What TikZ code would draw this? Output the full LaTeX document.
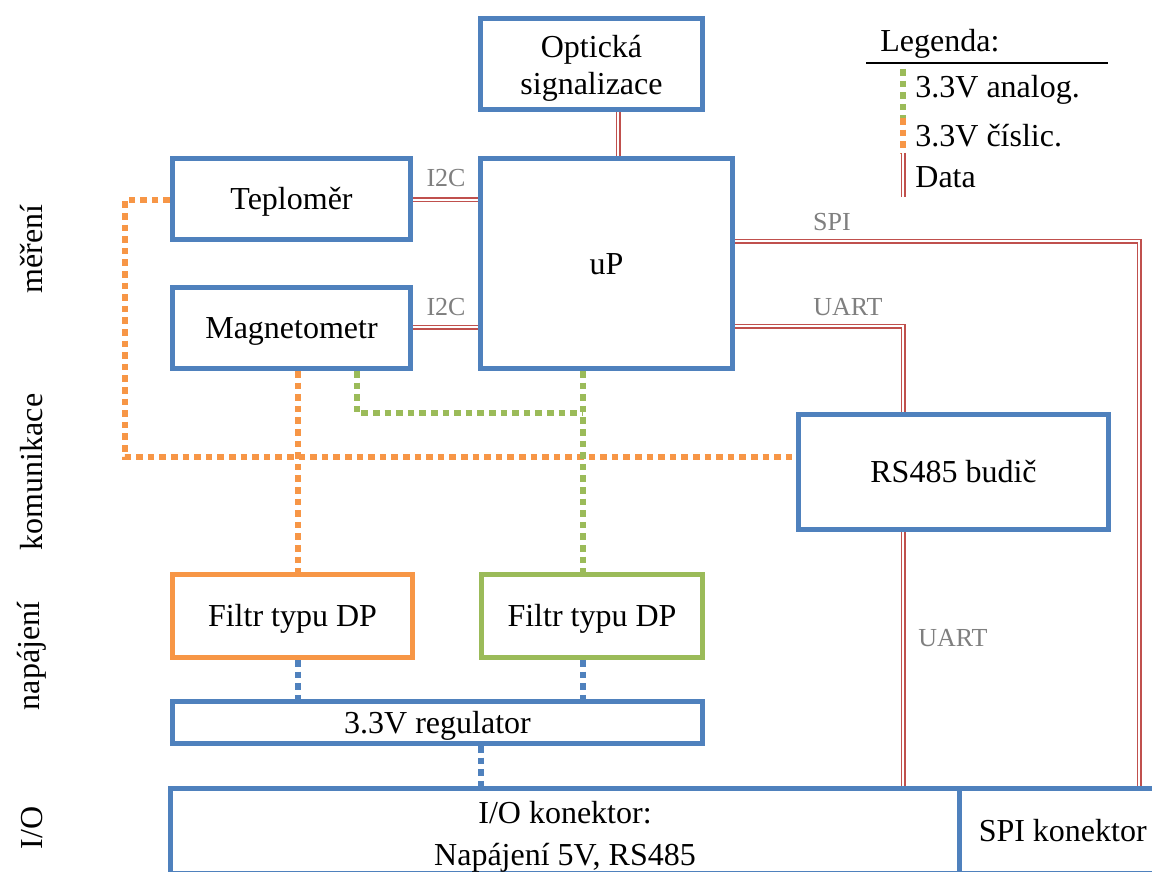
\documentclass[tikz,border=0pt]{standalone}
\usepackage{fontspec}
\setmainfont{Liberation Serif}
\definecolor{cblue}{HTML}{4F81BD}
\definecolor{corange}{HTML}{F79646}
\definecolor{cgreen}{HTML}{9BBB59}
\definecolor{cred}{HTML}{C0504D}
\definecolor{cgray}{HTML}{7F7F7F}
\begin{document}
\begin{tikzpicture}[x=0.5pt,y=-0.5pt,
  box/.style={draw=cblue, line width=2.5pt, inner sep=0pt, fill=white,
    text height=12pt, text depth=1.5pt, font=\fontsize{16}{18.5}\selectfont},
  txt/.style={inner sep=0pt, font=\fontsize{16}{18.5}\selectfont},
  lbl/.style={text=cgray, inner sep=0pt, font=\fontsize{13}{15}\selectfont},
  data/.style={draw=cred, double=white, double distance=0.9pt, line width=0.8pt},
  odot/.style={draw=corange, line width=3pt, dash pattern=on 3.3pt off 2.5pt},
  gdot/.style={draw=cgreen, line width=3pt, dash pattern=on 3.3pt off 2.5pt},
  bdot/.style={draw=cblue, line width=3pt, dash pattern=on 3.3pt off 2.5pt}]
\useasboundingbox (0,0) rectangle (1152,872);
% boxes
\node[box, minimum width=111pt, minimum height=45.5pt] (opt) at (591.5,64) {};
\node[txt, anchor=base] (opt1) at (591.5,58) {Optická};
\node[txt, anchor=base] (opt2) at (591.5,95) {signalizace};
\node[box, minimum width=119pt, minimum height=40.5pt] (teplo) at (291.5,199) {Teploměr};
\node[box, minimum width=126pt, minimum height=105pt] (uP) at (606.5,263.5) {uP};
\node[box, minimum width=119pt, minimum height=40.5pt] (mag) at (291.5,328) {Magnetometr};
\node[box, minimum width=155pt, minimum height=57.5pt] (rs) at (953.5,472) {RS485 budič};
\node[box, draw=corange, minimum width=120pt, minimum height=41.5pt] (fo) at (292.5,616) {Filtr typu DP};
\node[box, draw=cgreen, minimum width=110.5pt, minimum height=41.5pt] (fg) at (592,616) {Filtr typu DP};
\node[box, minimum width=265pt, minimum height=21pt] (reg) at (437.5,722.5) {3.3V regulator};
\node[box, minimum width=394.5pt, minimum height=42.5pt] (io) at (565,830.5) {};
\node[txt, anchor=base] (io1) at (565,823) {I/O konektor:};
\node[txt, anchor=base] (io2) at (565,865) {Napájení 5V, RS485};
\node[box, minimum width=97.25pt, minimum height=42.5pt] (spi) at (1056.75,830.5) {\hspace{6pt}SPI konektor};
% helper coordinates
\coordinate (xd) at (618,0);
\coordinate (yt) at (0,200);
\coordinate (ym) at (0,327);
\coordinate (ys) at (0,241);
\coordinate (yu) at (0,326);
\coordinate (xs) at (1139,0);
\coordinate (xu) at (903,0);
\coordinate (c1) at (125,457);
\coordinate (xo) at (298,0);
\coordinate (xg) at (583,0);
\coordinate (xm) at (357,413);
\coordinate (xg2) at (583,413);
\coordinate (xr) at (481,0);
% data lines
\draw[data] (opt.south -| xd) -- (uP.north -| xd);
\draw[data] (teplo.east |- yt) -- (uP.west |- yt);
\draw[data] (mag.east |- ym) -- (uP.west |- ym);
\draw[data] (uP.east |- ys) -| (spi.north -| xs);
\draw[data] (uP.east |- yu) -| (rs.north -| xu);
\draw[data] (rs.south -| xu) -- (io.north -| xu);
% power lines
\draw[odot] (teplo.west |- yt) -| (c1) -- (rs.west |- c1);
\draw[odot] (mag.south -| xo) -- (fo.north -| xo);
\draw[gdot] (uP.south -| xg) -- (fg.north -| xg);
\draw[gdot] (mag.south -| xm) -- (xm) -- (xg2);
\draw[bdot] (fo.south -| xo) -- (reg.north -| xo);
\draw[bdot] (fg.south -| xg) -- (reg.north -| xg);
\draw[bdot] (reg.south -| xr) -- (io.north -| xr);
% labels
\node[lbl] (i2c1) at (446,178) {I2C};
\node[lbl] (i2c2) at (446,307) {I2C};
\node[lbl] (lspi) at (832,222) {SPI};
\node[lbl] (luart1) at (848,307) {UART};
\node[lbl] (luart2) at (953,638) {UART};
% legend
\node[txt, anchor=base west] (legt) at (880,52) {Legenda:};
\coordinate (l1) at (866,63);
\coordinate (l2) at (1108,63);
\draw[line width=1pt] (l1) -- (l2);
\coordinate (la) at (903,69);
\coordinate (lb) at (903,118);
\coordinate (lc) at (903,153);
\coordinate (ld) at (903,197);
\draw[gdot] (la) -- (lb);
\draw[odot] (lb) -- (lc);
\draw[data] (lc) -- (ld);
\node[txt, anchor=base west] (lg1) at (915,98) {3.3V analog.};
\node[txt, anchor=base west] (lg2) at (915,147) {3.3V číslic.};
\node[txt, anchor=base west] (lg3) at (915,188) {Data};
% side labels
\node[txt, rotate=90] (s1) at (32,249) {měření};
\node[txt, rotate=90] (s2) at (32,472) {komunikace};
\node[txt, rotate=90] (s3) at (32,656) {napájení};
\node[txt, rotate=90] (s4) at (32,828) {I/O};
\end{tikzpicture}
\end{document}
